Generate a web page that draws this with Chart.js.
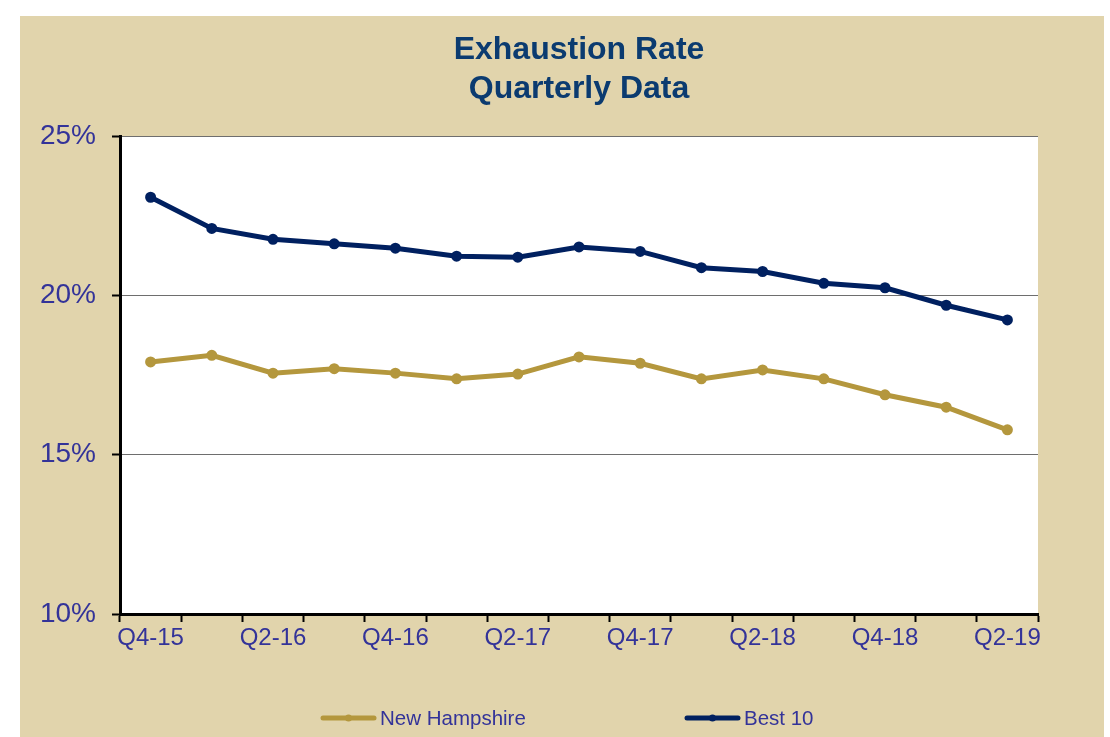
<!DOCTYPE html>
<html>
<head>
<meta charset="utf-8">
<script src="https://cdn.jsdelivr.net/npm/chart.js@4/dist/chart.umd.min.js"></script>
<style>
    body { margin: 0; background: #ffffff; }
    #wrap { position: absolute; left: 20px; top: 16px; width: 1084px; height: 721px; background: #E1D4AC; }
</style>
</head>
<body>
<div id="wrap"><canvas id="chartExhaustion" width="1084" height="721"></canvas></div>
<script>
const quarters = ['Q4-15','Q1-16','Q2-16','Q3-16','Q4-16','Q1-17','Q2-17','Q3-17','Q4-17','Q1-18','Q2-18','Q3-18','Q4-18','Q1-19','Q2-19']
const newHampshire = [17.91, 18.12, 17.56, 17.70, 17.56, 17.38, 17.53, 18.07, 17.87, 17.38, 17.66, 17.38, 16.88, 16.49, 15.78]
const best10 = [23.08, 22.10, 21.76, 21.62, 21.48, 21.23, 21.20, 21.52, 21.38, 20.87, 20.75, 20.38, 20.24, 19.69, 19.23]
const tituloLineas = ['Exhaustion Rate', 'Quarterly Data']

const fuente = 'Arial, "Liberation Sans", sans-serif'
const colorTexto = '#333399'

// fondo blanco solo dentro del area del grafico
const fondoArea = {
    id : 'fondoArea',
    beforeDraw(chart) {
        const { ctx, chartArea } = chart
        ctx.save()
        ctx.fillStyle = '#ffffff'
        ctx.fillRect(chartArea.left, chartArea.top, chartArea.right - chartArea.left, chartArea.bottom - chartArea.top)
        ctx.restore()
    }
}

// leyenda dibujada a mano, linea con punto como en el original
const leyendaLineas = {
    id : 'leyendaLineas',
    afterDraw(chart) {
        const ctx = chart.ctx
        const y = 702
        const posiciones = [301, 665]
        chart.data.datasets.forEach((ds, i) => {
            const x = posiciones[i]
            ctx.save()
            ctx.strokeStyle = ds.borderColor
            ctx.lineWidth = 5
            ctx.lineCap = 'round'
            ctx.beginPath()
            ctx.moveTo(x + 2, y)
            ctx.lineTo(x + 53, y)
            ctx.stroke()
            ctx.fillStyle = ds.borderColor
            ctx.beginPath()
            ctx.arc(x + 27.5, y, 3.5, 0, Math.PI * 2)
            ctx.fill()
            ctx.fillStyle = colorTexto
            ctx.font = `20.5px ${fuente}`
            ctx.textAlign = 'left'
            ctx.textBaseline = 'middle'
            ctx.fillText(ds.label, x + 59, y + 1)
            ctx.restore()
        })
    }
}

const context = document.getElementById('chartExhaustion').getContext('2d')

const chartExhaustion = new Chart(context, {
    type : 'line',
    data : {
        labels : quarters,
        datasets : [
            {
                label : 'New Hampshire',
                data : newHampshire,
                borderColor : '#B4973D',
                backgroundColor : '#B4973D',
                borderWidth : 5,
                pointRadius : 3,
                pointHoverRadius : 3,
                tension : 0
            },
            {
                label : 'Best 10',
                data : best10,
                borderColor : '#002060',
                backgroundColor : '#002060',
                borderWidth : 5,
                pointRadius : 3,
                pointHoverRadius : 3,
                tension : 0
            },
        ]
    },
    options : {
        responsive : false,
        animation : false,
        layout : {
            padding : { left : 0, right : 66, top : 0, bottom : 0 }
        },
        plugins : {
            legend : { display : false },
            tooltip : { enabled : false },
            title : {
                display : true,
                fullSize : false,   // centrado sobre el area del grafico
                text : tituloLineas,
                color : '#0B3B70',
                font : { family : fuente, size : 32, weight : 'bold', lineHeight : 1.22 },
                padding : { top : 15, bottom : 27 }
            }
        },
        scales : {
            x : {
                offset : true,
                afterFit : (scale) => { scale.height = 123 },
                grid : {
                    offset : true,
                    drawOnChartArea : false,
                    drawTicks : true,
                    tickLength : 8,
                    tickColor : '#000000',
                    tickWidth : 2
                },
                border : { color : '#000000', width : 3 },
                ticks : {
                    autoSkip : false,
                    maxRotation : 0,
                    padding : 2,
                    color : colorTexto,
                    font : { family : fuente, size : 24 },
                    callback : function (value, index) {
                        return index % 2 === 0 ? this.getLabelForValue(value) : ''
                    }
                }
            },
            y : {
                min : 10,
                max : 25,
                afterFit : (scale) => { scale.width = 100 },
                grid : {
                    color : '#6E6E6E',
                    lineWidth : 1,
                    drawTicks : true,
                    tickLength : 8,
                    tickColor : '#000000',
                    tickWidth : 2
                },
                border : { color : '#000000', width : 3 },
                ticks : {
                    stepSize : 5,
                    padding : 16,
                    color : colorTexto,
                    font : { family : fuente, size : 28 },
                    callback : (value) => value + '%'
                }
            }
        }
    },
    plugins : [fondoArea, leyendaLineas]
})
</script>
</body>
</html>
